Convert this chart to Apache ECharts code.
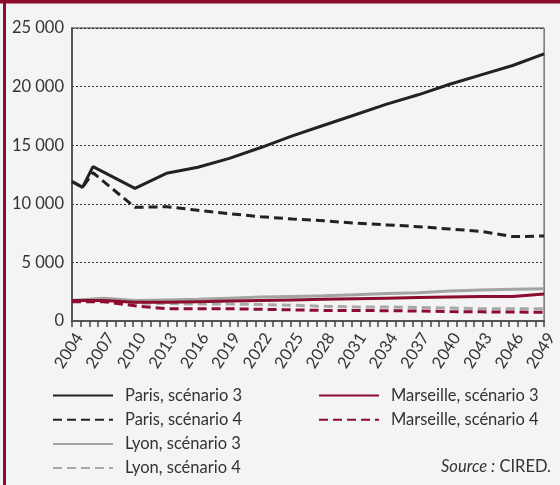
<!DOCTYPE html>
<html>
<head>
<meta charset="utf-8">
<script src="https://cdn.jsdelivr.net/npm/echarts@6/dist/echarts.min.js"></script>
<style>
    html, body { margin: 0; padding: 0; background: #f4f4f4; }
    #chart { width: 560px; height: 485px; }
</style>
</head>
<body>
<div id="chart"></div>
<script>
(function(){
    // years for the tick labels and most series
    let years = [2004, 2007, 2010, 2013, 2016, 2019, 2022, 2025, 2028, 2031, 2034, 2037, 2040, 2043, 2046, 2049];
    // Paris curves have two extra early points
    let parisYears = [2004, 2005, 2006, 2010, 2013, 2016, 2019, 2022, 2025, 2028, 2031, 2034, 2037, 2040, 2043, 2046, 2049];

    let paris3 = [11900, 11400, 13170, 11320, 12600, 13120, 13880, 14800, 15800, 16700, 17600, 18500, 19300, 20200, 21000, 21800, 22800];
    let paris4 = [11900, 11400, 12650, 9700, 9750, 9450, 9150, 8900, 8700, 8550, 8350, 8200, 8050, 7850, 7650, 7200, 7250];
    let lyon3 = [1750, 1950, 1750, 1800, 1850, 1950, 2050, 2100, 2150, 2250, 2350, 2400, 2550, 2650, 2700, 2750];
    let lyon4 = [1750, 1800, 1550, 1500, 1450, 1450, 1400, 1350, 1250, 1200, 1200, 1150, 1100, 1050, 1050, 1050];
    let marseille3 = [1750, 1750, 1600, 1600, 1650, 1700, 1750, 1800, 1850, 1900, 1950, 2000, 2050, 2080, 2100, 2300];
    let marseille4 = [1650, 1650, 1300, 1050, 1050, 1050, 1000, 950, 900, 900, 880, 850, 800, 780, 760, 750];

    let names = ['Paris, scénario 3', 'Paris, scénario 4', 'Lyon, scénario 3', 'Lyon, scénario 4', 'Marseille, scénario 3', 'Marseille, scénario 4'];

    const FONT = 'Lato, "Noto Sans", sans-serif';
    const RED = '#8b0c2f';
    const GREY = '#a3a3a3';
    const BLACK = '#222222';
    const DASH = [9, 5];

    let pairs = function(xs, ys){
        return ys.map((v, i) => [xs[i], v]);
    };
    let fmt = function(v){
        return String(v).replace(/\B(?=(\d{3})+(?!\d))/g, ' ');
    };

    let mkSeries = function(name, xs, ys, color, dashed, z){
        return {
            name: name,
            type: 'line',
            symbol: 'none',
            showSymbol: false,
            z: z,
            data: pairs(xs, ys),
            lineStyle: { color: color, width: 3, type: dashed ? DASH : 'solid' },
            itemStyle: { color: color }
        };
    };

    let legendBase = {
        orient: 'vertical',
        top: 387,
        height: 98,
        padding: 0,
        itemWidth: 60, itemHeight: 14, itemGap: 7.2,
        selectedMode: false,
        itemStyle: { opacity: 0 },
        lineStyle: { opacity: 1 },
        textStyle: { fontFamily: FONT, fontSize: 16.5, color: '#333', lineHeight: 16.5, padding: [0, 0, 0, 7] }
    };

    let chart = echarts.init(document.getElementById('chart'));
    chart.setOption({
        backgroundColor: '#f4f4f4',
        animation: false,
        grid: {
            left: 72, right: 11, top: 28, bottom: 164,
            show: true, borderColor: '#333', borderWidth: 1, backgroundColor: 'transparent'
        },
        xAxis: [{
            type: 'value',
            min: 2004, max: 2049, interval: 3,
            axisLine: { show: true, lineStyle: { color: '#555', width: 2 } },
            axisTick: { show: false },
            splitLine: { show: false },
            axisLabel: {
                rotate: 57, fontFamily: FONT, fontSize: 16.5, color: '#333', margin: 9,
                verticalAlign: 'top',
                showMinLabel: true, showMaxLabel: true,
                formatter: v => String(v)
            }
        }, {
            // tick marks only
            type: 'value',
            min: 0, max: 54, interval: 1,
            position: 'bottom',
            axisLine: { show: false },
            axisLabel: { show: false },
            splitLine: { show: false },
            axisTick: { show: true, length: 6, lineStyle: { color: '#444', width: 1.5 } }
        }],
        yAxis: {
            type: 'value',
            min: 0, max: 25000, interval: 5000,
            axisLine: { show: true, lineStyle: { color: '#555', width: 2 } },
            axisTick: { show: false },
            splitLine: { show: true, lineStyle: { color: '#333', width: 1, type: [2, 2] } },
            axisLabel: { fontFamily: FONT, fontSize: 16.5, color: '#333', margin: 8, formatter: fmt }
        },
        legend: [
            Object.assign({}, legendBase, { data: names.slice(0, 4), left: 52 }),
            Object.assign({}, legendBase, { data: names.slice(4), left: 318 })
        ],
        graphic: [
            { type: 'rect', left: 0, top: 0, shape: { width: 560, height: 3.5 }, style: { fill: RED } },
            { type: 'rect', left: 3, top: 0, shape: { width: 3, height: 485 }, style: { fill: RED } },
            {
                type: 'text', right: 9, top: 458,
                style: {
                    text: '{i|Source :} CIRED.',
                    fontFamily: FONT, fontSize: 16.5, fill: '#333',
                    rich: { i: { fontFamily: FONT, fontSize: 16.5, fontStyle: 'italic', fill: '#333' } }
                }
            }
        ],
        series: [
            mkSeries(names[2], years, lyon3, GREY, false, 2),
            mkSeries(names[3], years, lyon4, '#a8a8a8', true, 2),
            mkSeries(names[4], years, marseille3, RED, false, 3),
            mkSeries(names[5], years, marseille4, RED, true, 3),
            mkSeries(names[0], parisYears, paris3, BLACK, false, 4),
            mkSeries(names[1], parisYears, paris4, BLACK, true, 4)
        ]
    });
})();
</script>
</body>
</html>
